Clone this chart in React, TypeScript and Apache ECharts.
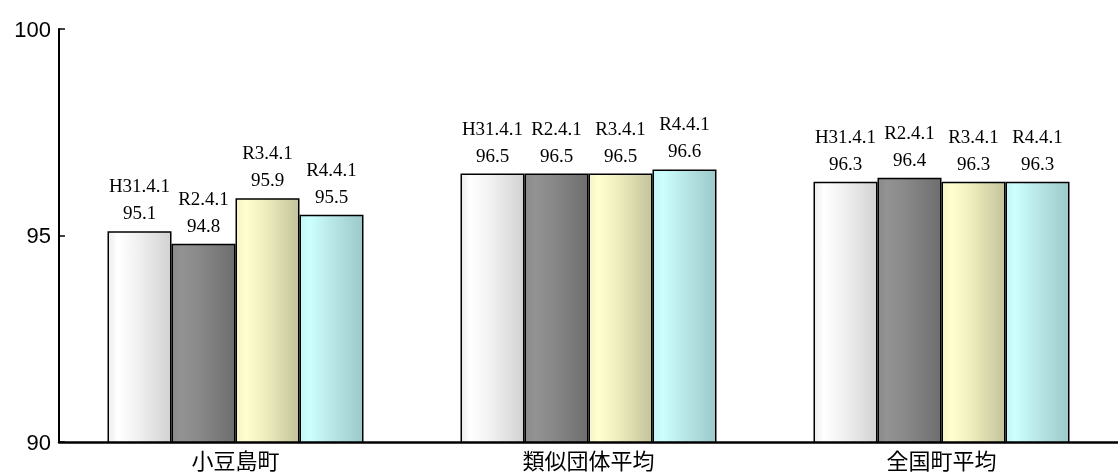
import React, { useEffect, useRef } from "react";
import * as echarts from "echarts";

const categories = ["小豆島町", "類似団体平均", "全国町平均"];
const seriesNames = ["H31.4.1", "R2.4.1", "R3.4.1", "R4.4.1"];
const values = [
  [95.1, 96.5, 96.3],
  [94.8, 96.5, 96.4],
  [95.9, 96.5, 96.3],
  [95.5, 96.6, 96.3],
];
const yTicks = { min: 90, max: 100, interval: 5 };

const gradients = [
  ["#ececec", "#ffffff", "#f2f2f2", "#d2d2d2"],
  ["#8a8a8a", "#939393", "#888888", "#6e6e6e"],
  ["#f4f4c8", "#ffffd0", "#eeeebe", "#c4c49c"],
  ["#c4f6f6", "#ccffff", "#bceaea", "#9ccaca"],
];

function grad(c: string[]) {
  return new echarts.graphic.LinearGradient(0, 0, 1, 0, [
    { offset: 0, color: c[0] },
    { offset: 0.15, color: c[1] },
    { offset: 0.45, color: c[2] },
    { offset: 1, color: c[3] },
  ]);
}

export default function App() {
  const ref = useRef<HTMLDivElement>(null);
  useEffect(() => {
    if (!ref.current) return;
    const chart = echarts.init(ref.current, null, { renderer: "svg" });
    chart.setOption({
      animation: false,
      grid: { left: 59, right: 0, top: 29, bottom: 32, containLabel: false },
      xAxis: {
        type: "category",
        data: categories,
        axisLine: { lineStyle: { color: "#000", width: 2.5 } },
        axisTick: { inside: true, length: 7, lineStyle: { color: "#000", width: 2 } },
        axisLabel: {
          color: "#000",
          fontSize: 22,
          lineHeight: 22,
          margin: 6,
          fontFamily: "Noto Sans CJK JP",
        },
      },
      yAxis: {
        type: "value",
        min: yTicks.min,
        max: yTicks.max,
        interval: yTicks.interval,
        splitLine: { show: false },
        axisLine: { show: true, lineStyle: { color: "#000", width: 2 } },
        axisTick: { show: true, inside: true, length: 6, lineStyle: { color: "#000", width: 1.5 } },
        axisLabel: {
          color: "#000",
          fontSize: 22,
          margin: 8,
          fontFamily: "Liberation Sans",
        },
      },
      series: seriesNames.map((name, i) => ({
        name,
        type: "bar",
        data: values[i],
        barWidth: 64,
        barGap: "0%",
        itemStyle: { color: grad(gradients[i]), borderColor: "#000", borderWidth: 1.5 },
        label: {
          show: true,
          position: "top",
          distance: 5,
          color: "#000",
          fontSize: 19,
          lineHeight: 27,
          fontFamily: "Liberation Serif",
          formatter: (p: any) => `${name}\n${p.value.toFixed(1)}`,
        },
      })),
    });
    return () => chart.dispose();
  }, []);
  return (
    <div
      ref={ref}
      style={{ position: "fixed", left: 0, top: 0, width: 1118, height: 474 }}
    />
  );
}
